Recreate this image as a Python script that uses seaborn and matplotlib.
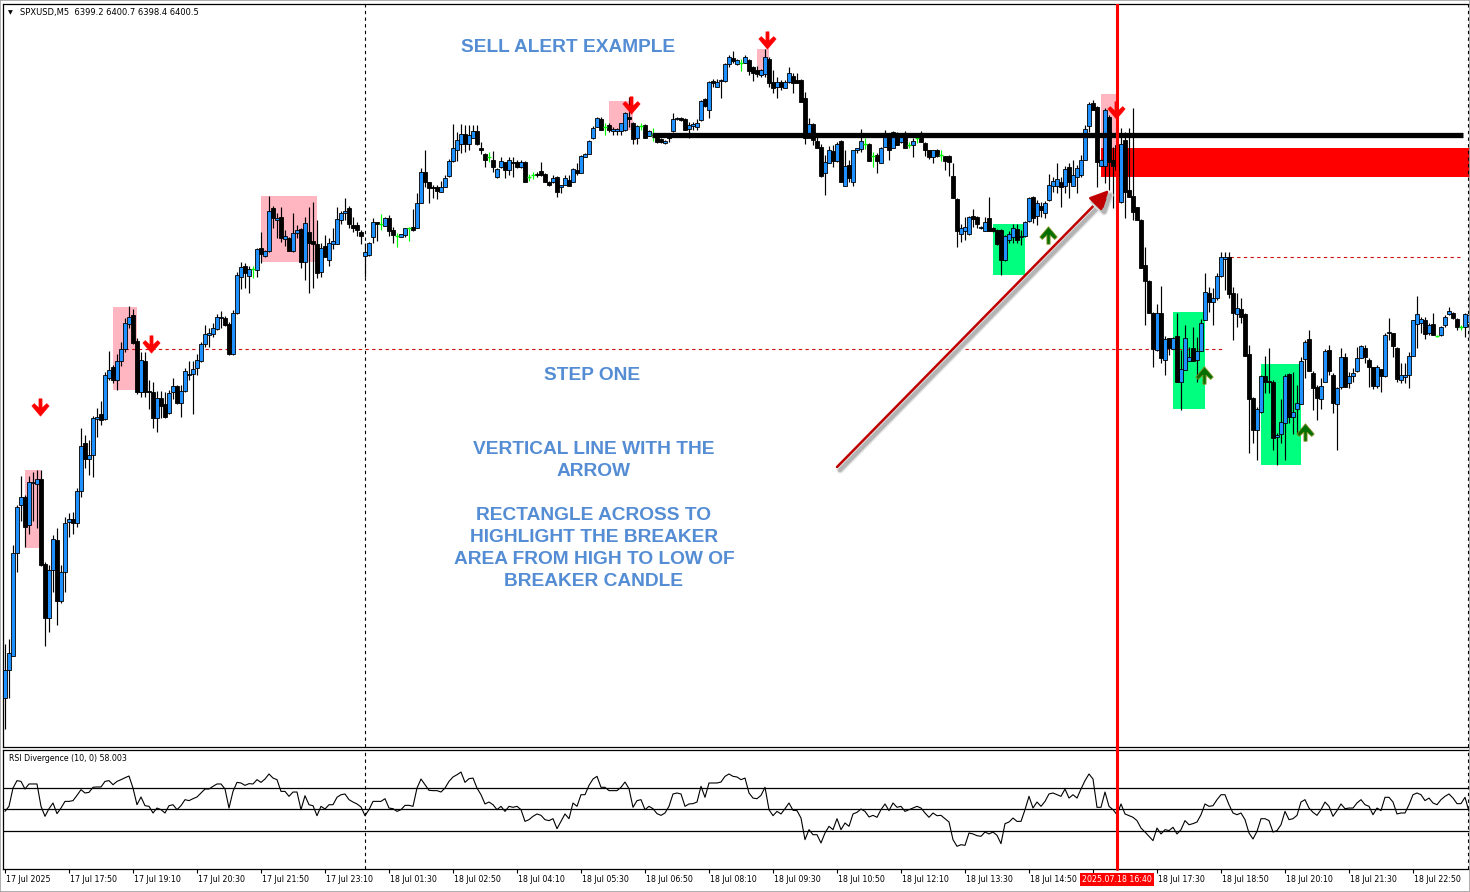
import matplotlib
matplotlib.use("Agg")
import numpy as np
import pandas as pd
import matplotlib.pyplot as plt
import seaborn as sns
from matplotlib.path import Path
from matplotlib.patches import Rectangle
import matplotlib.patheffects as pe
import matplotlib.transforms as mtransforms

# ---------------- data (SPXUSD, M5) ----------------
OPEN = [
6362.2, 6365.0, 6366.4, 6376.7, 6381.5, 6382.3, 6379.5, 6383.7, 6383.6, 6384.1,
6375.6, 6370.2, 6375.0, 6378.0, 6371.9, 6374.8, 6379.8, 6380.1, 6379.7, 6382.9,
6387.7, 6386.1, 6386.5, 6390.1, 6390.6, 6390.1, 6394.2, 6395.3, 6394.0, 6395.9,
6397.1, 6399.6, 6400.5, 6397.9, 6392.8, 6395.9, 6392.9, 6392.8, 6390.2, 6392.2,
6391.6, 6390.7, 6392.8, 6393.4, 6391.7, 6392.9, 6394.5, 6394.6, 6395.2, 6395.9,
6397.6, 6398.5, 6398.6, 6399.1, 6400.2, 6400.2, 6399.6, 6396.6, 6400.7, 6404.3,
6405.4, 6404.4, 6405.1, 6405.0, 6407.2, 6406.4, 6406.9, 6411.2, 6410.0, 6410.3,
6408.1, 6408.2, 6406.9, 6408.7, 6409.1, 6405.8, 6408.8, 6407.9, 6407.6, 6404.8,
6407.4, 6406.0, 6407.6, 6407.6, 6410.0, 6410.7, 6411.2, 6409.5, 6409.5, 6408.8,
6406.4, 6406.5, 6408.3, 6409.8, 6409.6, 6409.4, 6410.2, 6409.0, 6408.4, 6408.3,
6408.5, 6409.2, 6409.3, 6409.2, 6411.7, 6414.8, 6413.8, 6413.3, 6413.3, 6412.8,
6413.3, 6414.4, 6415.9, 6417.0, 6417.6, 6418.6, 6417.6, 6418.2, 6418.9, 6417.2,
6416.6, 6416.3, 6416.0, 6414.3, 6415.3, 6415.8, 6415.0, 6415.8, 6415.8, 6415.3,
6415.8, 6414.3, 6414.5, 6414.6, 6414.9, 6414.6, 6413.8, 6413.8, 6414.3, 6413.3,
6413.5, 6414.0, 6413.8, 6415.0, 6414.7, 6416.3, 6416.6, 6418.2, 6419.3, 6420.1,
6419.3, 6419.5, 6418.9, 6418.9, 6418.9, 6419.0, 6420.3, 6419.7, 6418.2, 6419.4,
6419.5, 6418.4, 6418.5, 6418.5, 6418.1, 6417.7, 6418.5, 6418.9, 6420.1, 6420.2,
6420.1, 6419.1, 6419.4, 6419.3, 6420.0, 6422.1, 6421.0, 6423.9, 6423.3, 6423.9,
6423.9, 6425.6, 6426.2, 6425.6, 6425.7, 6425.7, 6426.0, 6425.3, 6425.0, 6424.5,
6424.6, 6426.1, 6423.8, 6423.3, 6423.8, 6423.2, 6423.8, 6424.4, 6424.0, 6424.0,
6422.2, 6418.2, 6419.6, 6417.9, 6417.3, 6414.7, 6415.7, 6416.9, 6415.9, 6417.9,
6413.4, 6415.5, 6413.8, 6417.0, 6417.1, 6417.6, 6417.6, 6416.4, 6416.5, 6415.7,
6417.3, 6418.5, 6417.2, 6418.5, 6417.8, 6418.5, 6417.5, 6417.5, 6418.2, 6418.5,
6417.7, 6417.0, 6416.3, 6417.0, 6416.5, 6416.4, 6416.4, 6414.4, 6412.1, 6408.6,
6408.9, 6408.6, 6410.4, 6410.3, 6409.2, 6408.9, 6410.2, 6409.2, 6409.0, 6409.0,
6406.0, 6408.0, 6408.3, 6409.1, 6408.3, 6408.4, 6409.9, 6412.3, 6410.4, 6411.4,
6410.7, 6412.0, 6413.4, 6413.4, 6413.8, 6413.4, 6415.3, 6413.4, 6414.3, 6414.5,
6416.0, 6419.4, 6421.7, 6421.3, 6415.4, 6415.4, 6420.3, 6416.0, 6417.5, 6411.8,
6418.0, 6413.0, 6412.4, 6411.3, 6410.0, 6405.5, 6403.9, 6400.7, 6397.0, 6400.7,
6396.0, 6398.2, 6397.1, 6398.4, 6393.8, 6395.0, 6395.9, 6397.2, 6396.0, 6396.9,
6400.0, 6402.7, 6401.8, 6402.2, 6404.4, 6406.1, 6406.3, 6402.7, 6400.6, 6401.1,
6400.6, 6396.6, 6392.2, 6389.0, 6390.8, 6394.4, 6393.9, 6393.8, 6388.3, 6388.6,
6389.7, 6394.6, 6390.3, 6391.1, 6391.6, 6396.1, 6398.1, 6394.7, 6393.3, 6392.1,
6393.8, 6397.0, 6394.5, 6391.6, 6393.3, 6396.3, 6393.7, 6394.4, 6394.9, 6396.2,
6397.2, 6396.0, 6395.3, 6393.4, 6395.1, 6394.4, 6398.7, 6398.7, 6397.2, 6394.0,
6394.3, 6394.5, 6396.4, 6399.6, 6399.7, 6400.0, 6398.7, 6399.6, 6398.4, 6398.5,
6399.5, 6400.6, 6400.7, 6400.1, 6399.3, 6399.3, 6399.8]

HIGH = [
6367.6, 6368.1, 6377.5, 6381.5, 6384.4, 6382.5, 6384.4, 6384.8, 6385.0, 6385.0,
6375.8, 6375.5, 6378.5, 6379.2, 6375.5, 6380.3, 6380.7, 6380.8, 6383.2, 6389.2,
6388.5, 6388.0, 6390.4, 6391.2, 6391.9, 6394.8, 6396.9, 6395.5, 6396.6, 6397.8,
6400.2, 6401.4, 6401.1, 6398.2, 6396.8, 6396.8, 6394.0, 6393.8, 6392.9, 6392.9,
6392.8, 6393.0, 6394.2, 6393.5, 6393.5, 6395.2, 6395.9, 6395.9, 6396.6, 6397.8,
6399.5, 6399.2, 6399.7, 6400.6, 6400.9, 6400.4, 6399.8, 6401.0, 6404.8, 6405.8,
6405.7, 6405.4, 6405.4, 6407.2, 6408.8, 6407.0, 6412.4, 6411.4, 6410.7, 6411.3,
6409.0, 6408.3, 6410.7, 6409.5, 6409.2, 6410.3, 6411.3, 6411.8, 6410.0, 6407.7,
6408.5, 6408.2, 6409.2, 6411.3, 6410.9, 6412.2, 6411.4, 6410.3, 6409.8, 6409.0,
6407.7, 6407.8, 6410.2, 6409.8, 6410.6, 6410.3, 6410.5, 6409.3, 6408.7, 6408.6,
6409.2, 6409.3, 6411.1, 6412.7, 6415.2, 6417.0, 6413.8, 6413.5, 6413.5, 6413.9,
6414.5, 6416.1, 6419.6, 6418.8, 6419.6, 6419.5, 6419.5, 6419.5, 6419.5, 6417.8,
6416.7, 6416.8, 6416.9, 6415.2, 6416.3, 6415.8, 6416.3, 6416.3, 6416.0, 6416.0,
6415.9, 6414.6, 6414.8, 6414.8, 6415.8, 6414.7, 6413.9, 6414.5, 6414.4, 6413.5,
6414.5, 6414.5, 6415.2, 6415.7, 6416.5, 6416.7, 6418.0, 6419.4, 6420.3, 6420.3,
6419.7, 6419.7, 6419.3, 6419.2, 6419.7, 6420.8, 6422.3, 6419.8, 6419.5, 6419.7,
6419.6, 6419.0, 6419.2, 6418.6, 6418.2, 6418.0, 6418.5, 6420.7, 6420.3, 6420.3,
6420.2, 6419.8, 6419.8, 6420.1, 6422.0, 6422.2, 6423.9, 6424.1, 6424.1, 6424.1,
6425.7, 6426.5, 6426.9, 6426.1, 6426.1, 6426.5, 6426.1, 6425.4, 6425.4, 6425.1,
6427.1, 6426.3, 6425.0, 6424.3, 6424.0, 6424.0, 6425.3, 6424.7, 6424.7, 6424.1,
6422.8, 6420.2, 6419.7, 6418.3, 6417.6, 6416.5, 6417.4, 6417.5, 6417.8, 6418.0,
6417.0, 6416.0, 6417.0, 6417.2, 6419.1, 6418.2, 6417.7, 6416.8, 6416.7, 6417.3,
6419.0, 6418.6, 6418.9, 6418.8, 6418.4, 6418.9, 6417.8, 6418.2, 6418.5, 6418.9,
6417.8, 6417.0, 6417.0, 6417.1, 6417.0, 6416.4, 6416.5, 6415.7, 6412.2, 6409.6,
6410.3, 6410.4, 6411.1, 6410.4, 6409.4, 6410.3, 6412.3, 6409.3, 6409.1, 6409.1,
6408.5, 6408.9, 6409.6, 6409.6, 6409.0, 6409.9, 6412.3, 6412.4, 6412.0, 6411.8,
6411.9, 6414.6, 6414.3, 6415.7, 6414.3, 6415.4, 6415.7, 6416.0, 6415.5, 6416.5,
6419.5, 6421.8, 6422.0, 6421.4, 6416.1, 6421.2, 6420.5, 6417.3, 6419.5, 6419.2,
6418.8, 6419.2, 6421.2, 6411.3, 6410.1, 6407.3, 6404.0, 6400.8, 6401.6, 6403.4,
6398.4, 6398.2, 6398.3, 6400.7, 6397.0, 6399.5, 6397.3, 6399.3, 6398.3, 6400.1,
6404.7, 6403.3, 6403.2, 6404.7, 6406.8, 6406.8, 6406.8, 6403.3, 6402.7, 6402.2,
6400.7, 6397.5, 6392.3, 6391.3, 6394.5, 6396.4, 6397.2, 6394.0, 6388.7, 6392.1,
6394.6, 6394.7, 6394.8, 6393.5, 6396.3, 6398.0, 6399.0, 6394.9, 6393.5, 6394.2,
6397.1, 6397.5, 6394.7, 6393.3, 6397.2, 6396.7, 6394.8, 6395.2, 6397.3, 6397.5,
6397.5, 6396.2, 6395.3, 6395.5, 6395.1, 6398.7, 6400.2, 6398.7, 6397.3, 6395.7,
6395.7, 6396.8, 6400.0, 6402.4, 6400.3, 6400.3, 6399.7, 6400.7, 6398.5, 6399.4,
6400.5, 6401.3, 6400.8, 6400.2, 6399.5, 6400.7, 6402.5]

LOW = [
6359.1, 6362.2, 6366.4, 6374.8, 6379.9, 6377.3, 6378.6, 6379.9, 6379.2, 6375.4,
6367.4, 6368.8, 6372.8, 6369.5, 6371.7, 6372.8, 6378.3, 6378.6, 6379.3, 6382.3,
6385.2, 6384.5, 6384.3, 6388.3, 6389.5, 6390.0, 6394.0, 6393.7, 6393.0, 6395.4,
6396.8, 6399.2, 6397.6, 6392.6, 6392.3, 6392.3, 6391.1, 6389.2, 6388.8, 6390.2,
6390.2, 6390.6, 6392.1, 6391.6, 6390.3, 6392.8, 6394.0, 6390.6, 6394.5, 6395.8,
6397.3, 6397.3, 6398.3, 6399.0, 6399.2, 6399.4, 6396.5, 6396.5, 6400.6, 6403.1,
6403.2, 6402.7, 6404.2, 6404.3, 6405.7, 6406.3, 6406.8, 6409.2, 6408.2, 6407.8,
6407.4, 6406.9, 6406.8, 6408.2, 6405.2, 6404.0, 6402.7, 6403.2, 6404.2, 6404.3,
6406.3, 6405.4, 6407.1, 6407.6, 6409.6, 6410.0, 6409.2, 6408.8, 6408.4, 6407.6,
6404.3, 6406.4, 6407.7, 6407.9, 6409.0, 6409.4, 6408.4, 6407.7, 6407.3, 6408.3,
6408.3, 6407.9, 6408.9, 6409.2, 6411.7, 6413.3, 6411.7, 6412.2, 6412.1, 6412.8,
6413.3, 6414.3, 6415.8, 6415.9, 6416.7, 6416.8, 6417.0, 6418.2, 6417.5, 6416.6,
6415.3, 6415.8, 6414.8, 6414.2, 6415.2, 6414.2, 6414.5, 6414.3, 6415.2, 6415.2,
6413.8, 6413.9, 6414.1, 6414.3, 6414.4, 6413.8, 6413.4, 6413.7, 6412.3, 6412.7,
6413.5, 6413.4, 6413.8, 6414.5, 6414.7, 6416.3, 6416.6, 6418.1, 6419.3, 6419.0,
6418.5, 6418.8, 6418.5, 6418.5, 6418.5, 6418.9, 6419.3, 6417.6, 6417.6, 6419.0,
6418.2, 6418.4, 6417.9, 6417.7, 6417.7, 6417.6, 6417.8, 6418.8, 6420.0, 6419.9,
6419.0, 6418.2, 6419.0, 6419.0, 6419.9, 6421.3, 6420.2, 6423.3, 6423.3, 6422.2,
6423.8, 6425.3, 6425.7, 6425.5, 6424.9, 6425.7, 6424.5, 6423.9, 6424.3, 6424.3,
6424.3, 6423.3, 6422.7, 6422.2, 6423.0, 6423.2, 6423.7, 6422.7, 6423.7, 6421.8,
6417.6, 6418.2, 6417.5, 6417.2, 6414.3, 6412.5, 6415.7, 6415.3, 6415.8, 6413.8,
6413.4, 6413.8, 6413.4, 6416.7, 6416.8, 6417.1, 6415.9, 6415.3, 6414.7, 6415.7,
6417.3, 6416.0, 6417.2, 6417.5, 6417.7, 6417.2, 6417.2, 6416.3, 6417.7, 6417.8,
6416.4, 6416.1, 6415.7, 6416.3, 6415.9, 6415.0, 6414.4, 6412.2, 6407.3, 6407.8,
6408.0, 6408.5, 6409.3, 6409.2, 6409.1, 6408.9, 6408.9, 6408.8, 6407.5, 6404.5,
6405.9, 6407.7, 6407.7, 6407.7, 6407.5, 6408.3, 6409.8, 6409.7, 6409.5, 6410.3,
6410.2, 6411.9, 6412.8, 6412.7, 6411.3, 6412.7, 6412.2, 6413.4, 6412.7, 6414.3,
6416.0, 6418.8, 6421.0, 6413.3, 6415.4, 6413.7, 6413.0, 6411.2, 6412.0, 6411.7,
6410.2, 6412.3, 6410.0, 6410.0, 6405.2, 6399.5, 6400.7, 6395.3, 6396.9, 6395.7,
6394.5, 6396.5, 6397.1, 6393.8, 6391.0, 6395.0, 6395.9, 6395.9, 6393.8, 6396.9,
6400.0, 6400.8, 6399.5, 6402.0, 6404.3, 6403.0, 6402.2, 6398.0, 6399.3, 6399.7,
6396.4, 6386.7, 6387.7, 6386.0, 6390.7, 6392.7, 6392.7, 6387.0, 6385.5, 6387.7,
6386.0, 6389.7, 6388.6, 6388.7, 6391.6, 6394.2, 6394.9, 6391.0, 6390.0, 6391.1,
6393.8, 6394.5, 6390.7, 6387.0, 6393.1, 6393.3, 6393.2, 6393.8, 6394.8, 6396.2,
6395.7, 6393.3, 6393.1, 6393.2, 6392.8, 6394.3, 6398.0, 6396.3, 6393.8, 6393.7,
6393.7, 6393.2, 6396.4, 6397.2, 6398.7, 6398.1, 6398.5, 6398.5, 6398.3, 6398.4,
6399.3, 6400.5, 6400.1, 6399.0, 6399.0, 6398.3, 6398.3]

CLOSE = [
6365.0, 6366.7, 6376.7, 6381.3, 6382.3, 6379.3, 6383.8, 6383.8, 6384.1, 6375.5,
6370.2, 6375.0, 6378.1, 6371.9, 6374.8, 6379.7, 6380.1, 6379.7, 6382.9, 6387.4,
6386.1, 6386.5, 6390.2, 6390.3, 6390.0, 6394.5, 6395.0, 6394.0, 6395.9, 6397.1,
6399.7, 6400.3, 6397.7, 6392.8, 6396.0, 6392.8, 6392.8, 6390.2, 6392.2, 6391.4,
6390.3, 6392.7, 6393.4, 6391.7, 6392.9, 6394.9, 6394.6, 6395.1, 6396.0, 6397.6,
6398.6, 6398.7, 6399.2, 6400.3, 6400.3, 6399.5, 6396.6, 6400.7, 6404.5, 6405.3,
6404.7, 6405.1, 6405.1, 6407.1, 6406.6, 6406.9, 6410.9, 6410.2, 6410.2, 6408.2,
6408.4, 6406.9, 6408.7, 6409.0, 6405.8, 6409.7, 6407.7, 6407.6, 6404.7, 6407.2,
6406.3, 6407.7, 6407.9, 6410.1, 6410.7, 6410.9, 6409.6, 6409.2, 6409.0, 6408.4,
6406.8, 6407.7, 6409.8, 6409.6, 6409.6, 6410.2, 6408.9, 6408.5, 6408.4, 6408.6,
6409.2, 6409.2, 6409.0, 6411.7, 6414.8, 6413.8, 6413.2, 6413.2, 6412.9, 6413.3,
6414.2, 6415.9, 6417.2, 6418.0, 6418.6, 6417.6, 6418.5, 6418.9, 6417.6, 6417.0,
6416.0, 6416.3, 6415.3, 6415.1, 6415.9, 6415.0, 6416.0, 6415.7, 6415.3, 6415.8,
6413.8, 6414.3, 6414.5, 6414.5, 6414.5, 6413.8, 6413.5, 6414.2, 6412.8, 6413.5,
6414.2, 6413.4, 6415.1, 6414.7, 6416.4, 6416.6, 6417.9, 6419.2, 6420.2, 6419.0,
6419.3, 6419.0, 6419.1, 6419.1, 6419.7, 6420.7, 6420.1, 6418.1, 6419.4, 6419.4,
6418.2, 6418.9, 6418.5, 6417.8, 6417.8, 6417.9, 6418.2, 6420.1, 6420.2, 6420.0,
6419.0, 6419.5, 6419.6, 6419.7, 6421.9, 6421.4, 6423.8, 6423.7, 6423.8, 6424.0,
6425.6, 6426.3, 6425.9, 6426.0, 6425.7, 6426.3, 6424.9, 6424.7, 6424.6, 6425.0,
6426.3, 6423.7, 6423.2, 6423.8, 6423.3, 6423.8, 6424.7, 6423.7, 6423.7, 6421.8,
6418.2, 6419.6, 6418.0, 6417.2, 6414.4, 6415.8, 6417.0, 6415.9, 6417.6, 6413.8,
6415.4, 6414.2, 6417.0, 6417.2, 6417.9, 6417.6, 6415.9, 6416.4, 6415.9, 6417.2,
6418.5, 6417.0, 6418.8, 6417.5, 6418.3, 6417.2, 6417.5, 6417.9, 6418.2, 6417.8,
6417.0, 6416.3, 6417.0, 6416.4, 6416.5, 6415.9, 6415.8, 6412.2, 6408.9, 6409.2,
6409.3, 6410.3, 6410.1, 6409.6, 6409.3, 6409.8, 6408.9, 6408.9, 6407.6, 6406.0,
6408.4, 6408.6, 6409.2, 6408.0, 6408.4, 6409.8, 6412.2, 6410.2, 6411.7, 6411.0,
6411.7, 6413.5, 6413.9, 6414.1, 6413.3, 6415.1, 6413.8, 6414.5, 6415.2, 6416.0,
6419.1, 6421.6, 6421.0, 6415.8, 6416.0, 6421.0, 6415.8, 6415.4, 6415.0, 6417.6,
6412.8, 6412.3, 6410.8, 6410.0, 6405.2, 6403.9, 6400.7, 6397.1, 6400.7, 6396.2,
6398.1, 6397.2, 6398.2, 6393.8, 6395.1, 6398.2, 6396.3, 6395.9, 6396.9, 6399.7,
6402.8, 6401.8, 6402.2, 6404.4, 6406.3, 6406.3, 6402.6, 6400.7, 6401.2, 6400.3,
6396.4, 6392.1, 6389.0, 6391.1, 6394.4, 6393.8, 6393.8, 6388.2, 6388.5, 6389.8,
6394.4, 6390.3, 6390.8, 6391.7, 6395.9, 6397.8, 6394.9, 6393.2, 6392.2, 6393.4,
6396.9, 6394.9, 6391.7, 6393.2, 6396.3, 6393.3, 6394.4, 6394.7, 6396.2, 6397.4,
6396.3, 6395.3, 6393.4, 6395.3, 6394.4, 6398.5, 6398.8, 6397.4, 6394.1, 6394.5,
6394.5, 6396.4, 6400.0, 6400.6, 6400.1, 6398.6, 6399.5, 6398.5, 6398.4, 6399.3,
6400.3, 6400.9, 6400.2, 6399.3, 6399.3, 6400.6, 6400.5]

RSI = [
47.8, 52.5, 69.5, 76.4, 75.7, 68.6, 73.3, 73.3, 73.3, 52.5,
43.2, 50.3, 55.6, 45.7, 50.9, 57.1, 57.1, 57.8, 62.7, 68.0,
64.9, 65.5, 70.2, 70.5, 70.5, 75.7, 76.4, 72.6, 75.7, 77.3,
79.1, 80.7, 69.5, 54.0, 61.2, 53.1, 52.5, 46.3, 50.9, 49.4,
46.3, 53.1, 54.0, 49.4, 53.1, 58.7, 57.8, 59.6, 61.2, 64.9,
68.6, 68.6, 71.1, 73.3, 73.3, 68.6, 50.9, 66.4, 74.8, 74.2,
72.0, 73.6, 73.3, 77.3, 74.8, 77.9, 82.6, 78.8, 77.3, 66.4,
66.4, 61.8, 65.8, 65.8, 49.4, 62.4, 54.0, 53.1, 43.8, 52.5,
50.0, 54.0, 54.0, 60.9, 63.3, 64.0, 58.7, 56.5, 54.7, 51.9,
43.8, 49.4, 57.1, 57.1, 57.1, 59.6, 50.9, 50.3, 47.8, 49.4,
53.4, 53.4, 52.5, 69.5, 77.9, 72.6, 67.4, 67.1, 67.1, 65.8,
69.5, 75.7, 79.8, 81.9, 84.4, 74.8, 78.2, 78.8, 69.5, 63.3,
54.7, 56.5, 54.0, 49.4, 52.5, 47.8, 52.5, 51.6, 52.5, 49.4,
38.5, 40.1, 43.2, 45.4, 44.1, 40.1, 39.2, 41.0, 31.7, 38.5,
45.4, 41.0, 55.6, 52.5, 63.3, 63.3, 72.0, 77.9, 80.4, 70.2,
70.2, 67.1, 67.1, 67.1, 70.2, 75.1, 68.9, 51.6, 57.8, 58.7,
49.4, 52.5, 50.3, 45.7, 44.1, 46.3, 52.5, 64.0, 64.9, 64.0,
52.5, 54.7, 55.0, 56.5, 71.1, 60.9, 74.2, 74.2, 74.2, 75.1,
80.4, 82.6, 80.4, 79.8, 77.3, 78.8, 64.9, 60.2, 59.6, 62.7,
70.2, 49.4, 43.8, 47.8, 45.4, 50.3, 55.6, 48.8, 48.5, 41.6,
21.5, 30.8, 26.1, 26.1, 18.4, 27.7, 33.9, 30.8, 41.0, 30.8,
37.0, 33.9, 45.4, 46.9, 50.0, 47.8, 42.6, 44.1, 42.3, 49.4,
54.7, 48.5, 55.6, 51.6, 52.5, 47.8, 49.4, 50.9, 52.5, 50.9,
46.3, 42.3, 46.3, 43.8, 44.1, 41.0, 37.9, 21.5, 15.3, 16.8,
16.2, 27.7, 26.8, 25.2, 24.6, 28.6, 26.8, 28.6, 25.5, 17.8,
36.4, 37.9, 41.6, 38.5, 38.5, 49.4, 61.8, 50.9, 56.5, 52.5,
57.1, 64.0, 64.9, 63.3, 61.8, 68.6, 60.2, 63.3, 60.2, 68.6,
76.4, 82.6, 77.9, 51.6, 51.6, 65.8, 52.5, 49.4, 44.7, 54.7,
45.4, 43.8, 42.3, 39.2, 32.3, 28.6, 24.6, 20.6, 32.3, 26.8,
30.8, 29.9, 33.0, 26.8, 30.8, 39.2, 35.4, 36.4, 37.9, 44.7,
54.7, 52.5, 53.1, 58.7, 63.3, 63.3, 54.0, 46.3, 44.7, 46.3,
40.1, 27.7, 22.1, 29.2, 41.0, 41.0, 39.2, 28.6, 29.9, 35.4,
47.8, 40.1, 41.0, 44.1, 56.5, 58.7, 50.9, 46.9, 44.1, 49.4,
56.5, 52.5, 43.2, 48.5, 54.7, 50.3, 50.9, 50.9, 55.6, 58.7,
54.0, 52.5, 44.7, 50.9, 48.5, 60.9, 60.9, 56.5, 45.4, 46.3,
46.3, 54.0, 63.3, 64.9, 63.3, 57.8, 60.2, 55.6, 54.0, 58.7,
61.8, 64.0, 60.2, 55.0, 55.0, 60.9, 47.8]

RSI_LEVELS = [70, 50, 30]

TIME_LABELS = ["17 Jul 2025", "17 Jul 17:50", "17 Jul 19:10", "17 Jul 20:30",
               "17 Jul 21:50", "17 Jul 23:10", "18 Jul 01:30", "18 Jul 02:50",
               "18 Jul 04:10", "18 Jul 05:30", "18 Jul 06:50", "18 Jul 08:10",
               "18 Jul 09:30", "18 Jul 10:50", "18 Jul 12:10", "18 Jul 13:30",
               "18 Jul 14:50", "", "18 Jul 17:30", "18 Jul 18:50",
               "18 Jul 20:10", "18 Jul 21:30", "18 Jul 22:50"]
LABEL_EVERY = 16

SEPARATOR_BAR = 90
BREAKER_BAR = 278
BREAKER_LABEL = "2025.07.18 16:40"
HEADER = "SPXUSD,M5  6399.2 6400.7 6398.4 6400.5"
RSI_TITLE = "RSI Divergence (10, 0) 58.003"

# annotation objects (bar index, price)
RESIST_LEVEL = 6418.5
RESIST_FROM, RESIST_TO = 161.7, 364.5
DASH_LEVELS = [(6397.1, 30.0, 304.2), (6406.3, 306.3, 363.8)]
PINK_ZONES = [(5, 9, 6385.0, 6377.2), (27, 33, 6401.3, 6393.0), (64, 78, 6412.4, 6405.8),
              (151, 157, 6421.9, 6419.0), (188, 191, 6427.1, 6424.6), (274, 278, 6422.6, 6417.2)]
GREEN_ZONES = [(247, 255, 6409.6, 6404.5), (292, 300, 6400.8, 6391.1), (314, 324, 6395.6, 6385.5)]
BREAKER_ZONE = (274, 6417.2, 6414.3)
SELL_ARROWS_X = [8.75, 36.5, 156.5, 190.5, 277.75]
SELL_ARROWS_Y = [6391.3, 6397.6, 6421.5, 6428.0, 6421.0]
BUY_ARROWS_X = [260.75, 299.75, 325.0]
BUY_ARROWS_Y = [6408.5, 6394.5, 6388.8]
POINTER = ((208.0, 6385.3), (276.0, 6413.0))

n = len(CLOSE)
assert len(OPEN) == n and len(HIGH) == n and len(LOW) == n and len(RSI) == n

df = pd.DataFrame({"bar": np.arange(n), "open": OPEN, "high": HIGH,
                   "low": LOW, "close": CLOSE, "rsi": RSI})

# ---------------- figure ----------------
sns.set_style("white")
plt.rcParams["font.family"] = ["DejaVu Sans"]

W, H = 1470, 892
fig = plt.figure(figsize=(W / 100, H / 100), dpi=100)
fig.patch.set_facecolor("white")

ax = fig.add_axes([3 / W, 1 - 747 / H, 1467 / W, 743 / H])
ax2 = fig.add_axes([3 / W, 1 - 869 / H, 1467 / W, 119 / H])

XL = (-0.5, n - 0.75)
for a in (ax, ax2):
    a.set_xlim(*XL)
    a.set_facecolor("white")
    for s in ("left", "top", "bottom"):
        a.spines[s].set_visible(True)
        a.spines[s].set_color("black")
        a.spines[s].set_linewidth(0.9)
    a.spines["right"].set_visible(False)
    a.tick_params(left=False, labelleft=False, right=False, top=False)

ax.set_ylim(6357.3, 6431.6)
ax.set_xticks([])
ax2.set_ylim(-5.8, 104.9)

# zones
for i0, i1, top, bot in PINK_ZONES:
    ax.add_patch(Rectangle((i0, bot), i1 - i0, top - bot, facecolor="#ffb6c1",
                           edgecolor="none", zorder=1))
for i0, i1, top, bot in GREEN_ZONES:
    ax.add_patch(Rectangle((i0, bot), i1 - i0, top - bot, facecolor="#00ff7f",
                           edgecolor="none", zorder=1))
bz0, bztop, bzbot = BREAKER_ZONE
ax.add_patch(Rectangle((bz0, bzbot), XL[1] + 1 - bz0, bztop - bzbot,
                       facecolor="#ff0000", edgecolor="none", zorder=1))

# candles
o = df["open"].values
c = df["close"].values
x = df["bar"].values
doji = np.isclose(o, c)
bull = (c > o) & ~doji
bear = (c < o) & ~doji
wick_col = np.where(doji, "#00ff00", "black")
ax.vlines(x, df["low"], df["high"], colors=list(wick_col), linewidth=0.85, zorder=3)
ax.bar(x[bull], (c - o)[bull], bottom=o[bull], width=0.78, color="#1e90ff",
       edgecolor="black", linewidth=0.6, zorder=4)
ax.bar(x[bear], (o - c)[bear], bottom=c[bear], width=0.78, color="black",
       edgecolor="black", linewidth=0.6, zorder=4)
ax.hlines(c[doji], x[doji] - 0.42, x[doji] + 0.42, colors="#00ff00", linewidth=1.0, zorder=4)

# level lines
ax.hlines(RESIST_LEVEL, RESIST_FROM, RESIST_TO, colors="black", linewidth=3.8, zorder=5)
for lvl, a0, a1 in DASH_LEVELS:
    ax.hlines(lvl, a0, a1, colors="#d01010", linewidth=0.8, linestyles=(0, (3, 3)), zorder=2)

# vertical lines
for a in (ax, ax2):
    a.axvline(SEPARATOR_BAR, color="black", linewidth=0.8, linestyle=(0, (3, 3)), zorder=2)
    a.axvline(n - 1 - 0.25, color="black", linewidth=0.8, linestyle=(0, (3, 3)), zorder=2)
ax.axvline(BREAKER_BAR, color="#ff0000", linewidth=2.2, zorder=6)
ax2.axvline(BREAKER_BAR, ymin=0, ymax=1.04, color="#ff0000", linewidth=2.2, zorder=6, clip_on=False)

# arrow markers
down_verts = [(-0.18, 1.0), (0.18, 1.0), (0.18, -0.05), (0.72, 0.45), (1.0, 0.18),
              (0.0, -1.0), (-1.0, 0.18), (-0.72, 0.45), (-0.18, -0.05), (-0.18, 1.0)]
down_path = Path(down_verts, [Path.MOVETO] + [Path.LINETO] * 8 + [Path.CLOSEPOLY])
up_path = Path([(vx, -vy) for vx, vy in down_verts], down_path.codes)
ax.plot(SELL_ARROWS_X, SELL_ARROWS_Y, linestyle="none", marker=down_path, markersize=12.5,
        markerfacecolor="#ff0000", markeredgecolor="#ff0000", markeredgewidth=0.4, zorder=8)
ax.plot(BUY_ARROWS_X, BUY_ARROWS_Y, linestyle="none", marker=up_path, markersize=12.5,
        markerfacecolor="#006f00", markeredgecolor="#7f8f20", markeredgewidth=0.6, zorder=8)

# pointer arrow with soft shadow
(px0, py0), (px1, py1) = POINTER
ax.annotate("", xy=(px1, py1), xytext=(px0, py0),
            arrowprops=dict(arrowstyle="-|>,head_length=1.05,head_width=0.5",
                            color="#c00000", lw=1.8, mutation_scale=11, shrinkA=0, shrinkB=0,
                            path_effects=[pe.Stroke(offset=(2.2, -2.2), linewidth=5.0,
                                                    foreground="#e2e2e2"),
                                          pe.Stroke(offset=(2.2, -2.2), linewidth=3.0,
                                                    foreground="#b4b4b4"),
                                          pe.Normal()]),
            zorder=9)

# annotation texts (figure pixel positions)
TXT_COLOR = "#548dd4"
def ftext(px, py, s, **kw):
    fig.text(px / W, 1 - py / H, s, **kw)

txt_kw = dict(color=TXT_COLOR, fontsize=13.8, fontweight="bold", ha="center", va="center",
              family=["Liberation Sans", "DejaVu Sans"])
ftext(568, 47, "SELL ALERT EXAMPLE", **txt_kw)
ftext(592, 375, "STEP ONE", **txt_kw)
for yy, s in [(450, "VERTICAL LINE WITH THE"), (472, "ARROW"),
              (516, "RECTANGLE ACROSS TO"), (537, "HIGHLIGHT THE BREAKER"),
              (559, "AREA FROM HIGH TO LOW OF"), (581, "BREAKER CANDLE")]:
    ftext(594, yy, s, **txt_kw)

# header & indicator title
ftext(8, 12.5, "\u25bc", fontsize=4.5, color="black", va="center", ha="left")
ftext(20, 12.5, HEADER, fontsize=6.0, color="black", va="center", ha="left")
ftext(9, 758.5, RSI_TITLE, fontsize=5.7, color="black", va="center", ha="left")

# RSI panel
for lvl in RSI_LEVELS:
    ax2.axhline(lvl, color="black", linewidth=0.9, zorder=1)
sns.lineplot(data=df, x="bar", y="rsi", ax=ax2, color="black", linewidth=0.8,
             legend=False, zorder=3)
ax2.set_xlabel("")
ax2.set_ylabel("")
ax2.set_yticks([])

tick_pos = [k * LABEL_EVERY for k in range(len(TIME_LABELS))]
ax2.set_xticks(tick_pos)
ax2.set_xticklabels([])
ax2.tick_params(axis="x", bottom=True, length=3, width=0.8, color="black", direction="out")
trans = mtransforms.blended_transform_factory(ax2.transData, ax2.transAxes)
for pos, lab in zip(tick_pos, TIME_LABELS):
    if lab:
        ax2.text(pos + 0.3, -0.085, lab, transform=trans, fontsize=5.7, color="black",
                 ha="left", va="center", clip_on=False)
ax2.text(BREAKER_BAR, -0.085, BREAKER_LABEL, transform=trans, fontsize=5.7, color="white",
         ha="center", va="center", clip_on=False, zorder=10,
         bbox=dict(boxstyle="square,pad=0.25", facecolor="#ff0000", edgecolor="none"))

# thin outer window border
fig.add_artist(Rectangle((0, 0), 1, 1, transform=fig.transFigure, fill=False,
                         edgecolor="#a0a0a0", linewidth=1.2))

fig.savefig("out.png", dpi=100, facecolor="white")
